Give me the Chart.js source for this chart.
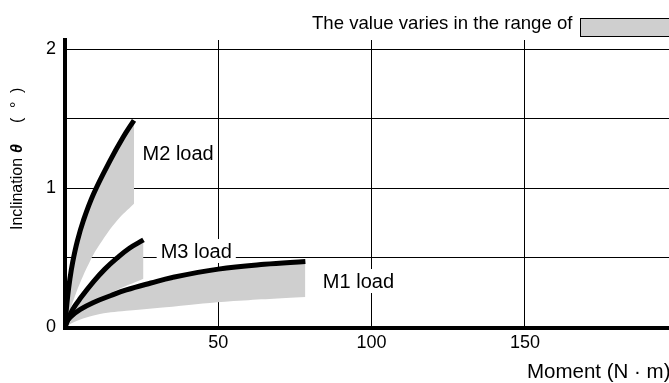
<!DOCTYPE html>
<html>
<head>
<meta charset="utf-8">
<script src="https://cdn.jsdelivr.net/npm/chart.js@4"></script>
<style>
  body { margin: 0; background: #fff; }
  canvas { display: block; }
</style>
</head>
<body>
<canvas id="inclinationChart" width="669" height="383"></canvas>
<script>
// moment (N·m) vs inclination (°), [x, y] pairs along each curve
const m1Load = [[0, 0], [0.5, 0.04], [2, 0.08], [5, 0.13], [9.3, 0.18], [15, 0.23], [20, 0.27], [28, 0.32], [35, 0.36], [50, 0.42], [65, 0.455], [78.4, 0.475]];
const m1Low = [[0, 0], [3, 0.04], [10, 0.09], [20, 0.12], [35, 0.15], [55, 0.19], [78.4, 0.22]];
const m2Load = [[0, 0], [0.4, 0.12], [0.9, 0.23], [1.6, 0.35], [2.5, 0.47], [4, 0.62], [6, 0.77], [9.3, 0.96], [14.7, 1.2], [19, 1.37], [22.5, 1.49]];
const m2Low = [[0, 0], [1.6, 0.12], [3, 0.21], [4.9, 0.32], [8, 0.47], [11.4, 0.6], [17, 0.77], [22.5, 0.89]];
const m3Load = [[0, 0], [1, 0.06], [2.5, 0.13], [5, 0.21], [9.3, 0.33], [13, 0.42], [17, 0.5], [21, 0.57], [25.6, 0.63]];
const m3Low = [[0, 0], [5, 0.11], [10, 0.19], [16, 0.26], [25.6, 0.35]];
const curveNames = ['M1 load', 'M2 load', 'M3 load'];
const xTickValues = [0, 50, 100, 150];
const yTickValues = [0, 0.5, 1, 1.5, 2];
const yTickLabels = ['0', '', '1', '', '2'];
const legendText = 'The value varies in the range of';
const xTitle = 'Moment (N · m)';

const FONT = '"Liberation Sans", Arial, Helvetica, sans-serif';
const GRAY = '#cfcfcf';
Chart.defaults.font.family = FONT;
Chart.defaults.color = '#000';

const toPts = arr => arr.map(([x, y]) => ({ x, y }));

const lineSet = data => ({
    data: toPts(data),
    borderColor: '#000',
    borderWidth: 5,
    pointRadius: 0,
    tension: 0.4,
    fill: false,
    order: 1
});

const bandSet = (data, target) => ({
    data: toPts(data),
    borderColor: 'rgba(0,0,0,0)',
    borderWidth: 1,
    pointRadius: 0,
    tension: 0.4,
    backgroundColor: GRAY,
    fill: { target: target },
    order: 2
});

// where the curve names sit (data units, text baseline-left)
const labelSpots = [[84.1, 0.284], [25.3, 1.205], [31.2, 0.5]];

const annotations = {
    id: 'annotations',
    afterDraw(chart) {
        const { ctx, scales: { x, y } } = chart;
        ctx.save();
        ctx.fillStyle = '#000';
        ctx.textBaseline = 'alphabetic';

        // curve names on white boxes
        ctx.font = '20px ' + FONT;
        curveNames.forEach((name, i) => {
            const px = x.getPixelForValue(labelSpots[i][0]);
            const py = y.getPixelForValue(labelSpots[i][1]);
            const w = ctx.measureText(name).width;
            ctx.fillStyle = '#fff';
            ctx.fillRect(px - 4, py - 19, w + 8, 24);
            ctx.fillStyle = '#000';
            ctx.fillText(name, px, py);
        });

        // range legend
        ctx.font = '18.6px ' + FONT;
        ctx.fillText(legendText, 312, 29);
        ctx.fillStyle = GRAY;
        ctx.fillRect(580.5, 18.5, 100, 18);
        ctx.strokeStyle = '#000';
        ctx.lineWidth = 1;
        ctx.strokeRect(580.5, 18.5, 100, 18);

        // x title
        ctx.fillStyle = '#000';
        ctx.font = '20.5px ' + FONT;
        ctx.fillText(xTitle, 527, 378);

        // y title, rotated
        ctx.translate(22, 230);
        ctx.rotate(-Math.PI / 2);
        ctx.font = '16px ' + FONT;
        ctx.fillText('Inclination', 0, 0);
        ctx.font = 'italic bold 16px ' + FONT;
        ctx.fillText('θ', 77, 0);
        ctx.font = '16px ' + FONT;
        ctx.fillText('(', 107, 0);
        ctx.fillText('°', 122, 0);
        ctx.fillText(')', 137, 0);
        ctx.restore();
    }
};

new Chart(document.getElementById('inclinationChart'), {
    type: 'line',
    data: {
        datasets: [
            lineSet(m1Load),
            lineSet(m2Load),
            lineSet(m3Load),
            bandSet(m1Low, 0),
            bandSet(m2Low, 1),
            bandSet(m3Low, 2)
        ]
    },
    options: {
        responsive: false,
        animation: false,
        layout: { padding: { top: 40, right: 0, left: 0, bottom: 0 } },
        plugins: {
            legend: { display: false },
            tooltip: { enabled: false },
            filler: { drawTime: 'beforeDatasetsDraw' }
        },
        scales: {
            x: {
                type: 'linear',
                min: 0,
                max: 197,
                z: 1,
                afterBuildTicks: s => { s.ticks = xTickValues.map(v => ({ value: v })); },
                afterFit: s => { s.height = 55.5; },
                ticks: {
                    callback: v => (v === 0 ? '' : v),
                    font: { size: 18 },
                    padding: 5,
                    maxRotation: 0,
                    autoSkip: false
                },
                grid: { color: '#000', lineWidth: 1, drawTicks: false },
                border: { color: '#000', width: 4 }
            },
            y: {
                min: 0,
                max: 2.068,
                z: 1,
                afterBuildTicks: s => { s.ticks = yTickValues.map(v => ({ value: v })); },
                afterFit: s => { s.width = 65; },
                ticks: {
                    callback: (v, i) => yTickLabels[i],
                    font: { size: 18 },
                    padding: 9,
                    autoSkip: false
                },
                grid: { color: '#000', lineWidth: 1, drawTicks: false },
                border: { color: '#000', width: 4 }
            }
        }
    },
    plugins: [annotations]
});
</script>
</body>
</html>
